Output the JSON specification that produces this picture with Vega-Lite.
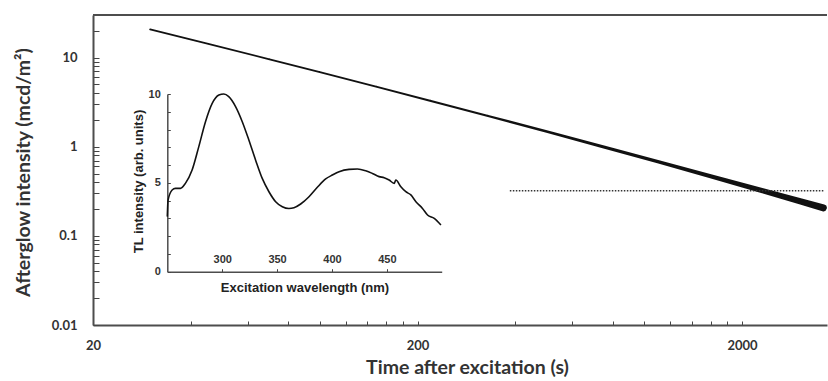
{
  "$schema": "https://vega.github.io/schema/vega-lite/v6.json",
  "width": 734,
  "height": 310,
  "autosize": {"type": "none"},
  "padding": {"left": 93, "top": 15, "right": 1, "bottom": 56},
  "config": {"view": {"stroke": null}, "axis": {"grid": false}},
  "layer": [
    {
      "layer": [
        {
          "data": {"values": [
            {"t": 30, "I": 20.7}, {"t": 45, "I": 14.34}, {"t": 70, "I": 9.56}, {"t": 100, "I": 6.87},
            {"t": 150, "I": 4.69}, {"t": 220, "I": 3.264}, {"t": 330, "I": 2.211}, {"t": 500, "I": 1.478},
            {"t": 750, "I": 0.992}, {"t": 1100, "I": 0.678}, {"t": 1600, "I": 0.4658}, {"t": 2300, "I": 0.3225},
            {"t": 3000, "I": 0.2458}, {"t": 3560, "I": 0.2062}
          ]},
          "mark": {"type": "trail", "color": "#111"},
          "encoding": {
            "x": {"field": "t", "type": "quantitative",
              "scale": {"type": "log", "domain": [20, 3654], "nice": false},
              "axis": {"orient": "bottom",
                "values": [20,40,60,80,100,120,140,160,180,200,400,600,800,1000,1200,1400,1600,1800,2000],
                "labelExpr": "datum.value == 20 || datum.value == 200 || datum.value == 2000 ? datum.value + '' : ''",
                "tickSize": -4, "tickColor": "#444", "domainColor": "#4d4d4d", "domainWidth": 2,
                "labelPadding": 18, "labelFont": "Lato", "labelFontWeight": "bold", "labelFontSize": 13,
                "labelColor": "#333", "labelFlush": false, "labelOverlap": false,
                "title": "Time after excitation (s)", "titleFont": "Lato", "titleFontSize": 19.5, "titleFontWeight": "bold",
                "titleColor": "#333", "titleX": 374, "titleY": 42, "titleBaseline": "middle", "titleAlign": "center"}},
            "y": {"field": "I", "type": "quantitative",
              "scale": {"type": "log", "domain": [0.01, 30], "nice": false},
              "axis": {"orient": "left",
                "values": [0.01,0.02,0.03,0.04,0.05,0.06,0.07,0.08,0.09,0.1,0.2,0.3,0.4,0.5,0.6,0.7,0.8,0.9,1,2,3,4,5,6,7,8,9,10,20],
                "labelExpr": "indexof([0.01,0.1,1,10], datum.value) >= 0 ? datum.value + '' : ''",
                "tickSize": -6, "tickColor": "#444", "domainColor": "#4d4d4d", "domainWidth": 2,
                "labelPadding": 22, "labelFont": "Lato", "labelFontWeight": "bold", "labelFontSize": 13,
                "labelColor": "#333", "labelFlush": false, "labelOverlap": false,
                "title": "Afterglow intensity (mcd/m²)", "titleFont": "Lato", "titleFontSize": 19.5, "titleFontWeight": "bold",
                "titleColor": "#333", "titleX": -70, "titleY": 157, "titleBaseline": "middle", "titleAlign": "center"}},
            "size": {"field": "t", "type": "quantitative",
              "scale": {"type": "linear", "domain": [30, 3560], "range": [1.8, 7]}, "legend": null}
          }
        },
        {
          "data": {"values": [{"t": 385, "t2": 3560, "I": 0.32}]},
          "mark": {"type": "rule", "strokeDash": [1.5, 1.5], "strokeWidth": 1.5, "color": "#333"},
          "encoding": {
            "x": {"field": "t", "type": "quantitative"},
            "x2": {"field": "t2"},
            "y": {"field": "I", "type": "quantitative"}
          }
        },
        {
          "data": {"values": [{}]},
          "mark": {"type": "rule", "color": "#4d4d4d", "strokeWidth": 2},
          "encoding": {"y": {"datum": 30, "type": "quantitative"}}
        }
      ]
    },
    {
      "data": {"values": [
        {"wl": 250, "tl": 3.1}, {"wl": 250.7, "tl": 4.03}, {"wl": 254.4, "tl": 4.6}, {"wl": 257.4, "tl": 4.69},
        {"wl": 262, "tl": 4.69}, {"wl": 266.5, "tl": 4.97}, {"wl": 272.6, "tl": 5.72}, {"wl": 278.7, "tl": 7.04},
        {"wl": 284.8, "tl": 8.44}, {"wl": 290.9, "tl": 9.47}, {"wl": 297, "tl": 9.94}, {"wl": 301.5, "tl": 10.0},
        {"wl": 306, "tl": 9.85}, {"wl": 312.2, "tl": 9.29}, {"wl": 318.3, "tl": 8.44}, {"wl": 324.3, "tl": 7.41},
        {"wl": 330.4, "tl": 6.29}, {"wl": 336.5, "tl": 5.25}, {"wl": 342.6, "tl": 4.5}, {"wl": 348.7, "tl": 3.94},
        {"wl": 354.8, "tl": 3.66}, {"wl": 360.8, "tl": 3.56}, {"wl": 365.4, "tl": 3.6}, {"wl": 371.5, "tl": 3.81},
        {"wl": 379.1, "tl": 4.22}, {"wl": 386.7, "tl": 4.75}, {"wl": 394.3, "tl": 5.22}, {"wl": 400.4, "tl": 5.44},
        {"wl": 406.5, "tl": 5.63}, {"wl": 415.6, "tl": 5.76}, {"wl": 423.2, "tl": 5.78}, {"wl": 430.8, "tl": 5.68},
        {"wl": 436.9, "tl": 5.53}, {"wl": 443, "tl": 5.35}, {"wl": 447.6, "tl": 5.29}, {"wl": 452.1, "tl": 5.16},
        {"wl": 456.7, "tl": 4.97}, {"wl": 458.2, "tl": 5.16}, {"wl": 462.8, "tl": 4.78}, {"wl": 467.3, "tl": 4.5},
        {"wl": 471.9, "tl": 4.32}, {"wl": 476.5, "tl": 3.94}, {"wl": 482.5, "tl": 3.56}, {"wl": 487.1, "tl": 3.19},
        {"wl": 493.2, "tl": 3.0}, {"wl": 499.3, "tl": 2.63}
      ]},
      "mark": {"type": "line", "color": "#111", "strokeWidth": 1.6, "interpolate": "monotone"},
      "encoding": {
        "x": {"field": "wl", "type": "quantitative",
          "scale": {"domain": [250, 500], "range": [74.3, 348.7], "nice": false, "zero": false},
          "axis": {"orient": "top", "offset": -256.7, "values": [300, 350, 400, 450],
            "tickSize": 3, "tickColor": "#444", "domainColor": "#4d4d4d", "domainWidth": 1.5,
            "labelPadding": 4, "labelFont": "Liberation Sans", "labelFontWeight": "bold", "labelFontSize": 11,
            "labelColor": "#333", "labelFlush": false, "labelOverlap": false,
            "title": "Excitation wavelength (nm)", "titleFont": "Liberation Sans", "titleFontSize": 13,
            "titleFontWeight": "bold", "titleColor": "#222", "titleY": 16, "titleBaseline": "middle"}},
        "y": {"field": "tl", "type": "quantitative",
          "scale": {"domain": [0, 10], "range": [256.7, 79], "nice": false},
          "axis": {"orient": "left", "offset": -74.3, "values": [0,1,2,3,4,5,6,7,8,9,10],
            "labelExpr": "datum.value % 5 == 0 ? datum.value + '' : ''",
            "tickSize": -3, "tickColor": "#444", "domainColor": "#4d4d4d", "domainWidth": 1.5,
            "labelPadding": 10, "labelFont": "Liberation Sans", "labelFontWeight": "bold", "labelFontSize": 11,
            "labelColor": "#333", "labelFlush": false, "labelOverlap": false,
            "title": "TL intensity (arb. units)", "titleFont": "Liberation Sans", "titleFontSize": 13,
            "titleFontWeight": "bold", "titleColor": "#222", "titleX": -29, "titleY": 166,
            "titleBaseline": "middle", "titleAlign": "center"}}
      }
    }
  ],
  "resolve": {"scale": {"x": "independent", "y": "independent"}, "axis": {"x": "independent", "y": "independent"}}
}
